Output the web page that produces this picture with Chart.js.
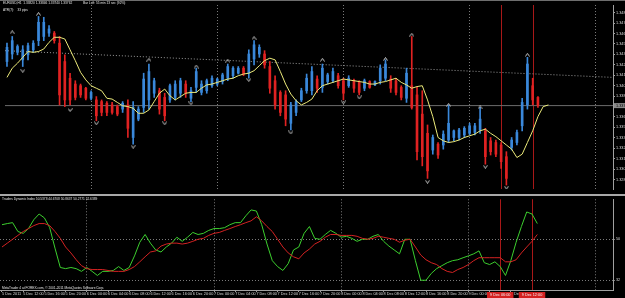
<!DOCTYPE html>
<html>
<head>
<meta charset="utf-8">
<script src="https://cdn.jsdelivr.net/npm/chart.js@4.4.0/dist/chart.umd.min.js"></script>
<style>
  body { margin: 0; background: #000; }
  #wrap { position: relative; width: 625px; height: 298px; overflow: hidden; background: #000; }
  canvas { position: absolute; left: 0; }
  #priceChart { top: 0; }
  #tdiChart { top: 196px; }
  .sep { position: absolute; left: 0; top: 194px; width: 625px; height: 2px; background: #a8a8a8; }
  .topline { position: absolute; left: 0; top: 0; width: 625px; height: 1px; background: #6e6e6e; }
  .txt { position: absolute; color: #e4e4e4; font: 8px "Liberation Sans", Arial, sans-serif; white-space: nowrap; transform: scale(0.4); transform-origin: 0 0; }
</style>
</head>
<body>
<div id="wrap">
  <canvas id="priceChart" width="625" height="194"></canvas>
  <div class="topline"></div>
  <div class="sep"></div>
  <canvas id="tdiChart" width="625" height="102"></canvas>
  <div class="txt" style="left:3px;top:1px">EURUSD,H1&nbsp; 1.33820 1.33846 1.33740 1.33762</div>
  <div class="txt" style="left:83px;top:1px">Bar Left: 55 min 13 sec (92%)</div>
  <div class="txt" style="left:3px;top:8px">ATR(7):&nbsp;&nbsp;&nbsp; 33 pips</div>
  <div class="txt" style="left:2px;top:197px">Traders Dynamic Index 50.5378 44.6708 50.8637 50.2771 52.6389</div>
  <div class="txt" style="left:2px;top:286px">MetaTrader 4 at FOREX.com, © 2001-2011 MetaQuotes Software Corp.</div>
</div>
<script>
// ==========================
// DATA (EURUSD H1, bar 0 = 5 Dec 2011 08:00)
// ==========================
const barOpen = [
  1.3429, 1.3438, 1.3440, 1.3431, 1.3437, 1.3443, 1.3454, 1.3459, 1.3463, 1.3463,
  1.3451, 1.3429, 1.3409, 1.3402, 1.3400, 1.3397, 1.3385, 1.3383, 1.3381, 1.3379,
  1.3377, 1.3375, 1.3372, 1.3377, 1.3338, 1.3360, 1.3374, 1.3383, 1.3391, 1.3394,
  1.3386, 1.3383, 1.3386, 1.3391, 1.3402, 1.3385, 1.3398, 1.3392, 1.3394, 1.3400,
  1.3402, 1.3405, 1.3409, 1.3412, 1.3415, 1.3421, 1.3415, 1.3432, 1.3438, 1.3438,
  1.3423, 1.3406, 1.3392, 1.3389, 1.3355, 1.3368, 1.3383, 1.3394, 1.3394, 1.3408,
  1.3398, 1.3405, 1.3406, 1.3412, 1.3406, 1.3400, 1.3406, 1.3404, 1.3397, 1.3405,
  1.3401, 1.3406, 1.3409, 1.3408, 1.3406, 1.3398, 1.3385, 1.3400, 1.3389, 1.3366,
  1.3343, 1.3323, 1.3330, 1.3329, 1.3335, 1.3338, 1.3338, 1.3341, 1.3343, 1.3344,
  1.3347, 1.3346, 1.3334, 1.3332, 1.3329, 1.3315, 1.3326, 1.3332, 1.3352, 1.3377,
  1.3400, 1.3386
];
const barHigh = [
  1.3451, 1.3459, 1.3449, 1.3448, 1.3451, 1.3454, 1.3483, 1.3482, 1.3472, 1.3465,
  1.3459, 1.3437, 1.3415, 1.3406, 1.3402, 1.3398, 1.3394, 1.3387, 1.3383, 1.3381,
  1.3380, 1.3377, 1.3381, 1.3383, 1.3381, 1.3375, 1.3415, 1.3426, 1.3409, 1.3397,
  1.3391, 1.3402, 1.3406, 1.3409, 1.3406, 1.3398, 1.3421, 1.3406, 1.3408, 1.3412,
  1.3409, 1.3415, 1.3426, 1.3423, 1.3423, 1.3423, 1.3443, 1.3454, 1.3449, 1.3442,
  1.3429, 1.3412, 1.3394, 1.3394, 1.3380, 1.3383, 1.3397, 1.3414, 1.3423, 1.3412,
  1.3426, 1.3415, 1.3421, 1.3415, 1.3409, 1.3412, 1.3408, 1.3406, 1.3408, 1.3406,
  1.3406, 1.3425, 1.3431, 1.3412, 1.3409, 1.3400, 1.3421, 1.3459, 1.3398, 1.3394,
  1.3353, 1.3341, 1.3332, 1.3346, 1.3377, 1.3347, 1.3349, 1.3351, 1.3355, 1.3355,
  1.3374, 1.3349, 1.3338, 1.3335, 1.3332, 1.3321, 1.3338, 1.3347, 1.3385, 1.3434,
  1.3409, 1.3387
];
const barLow = [
  1.3423, 1.3432, 1.3437, 1.3423, 1.3431, 1.3440, 1.3448, 1.3454, 1.3459, 1.3451,
  1.3377, 1.3375, 1.3377, 1.3383, 1.3386, 1.3383, 1.3383, 1.3358, 1.3364, 1.3364,
  1.3366, 1.3364, 1.3368, 1.3338, 1.3330, 1.3358, 1.3368, 1.3372, 1.3386, 1.3366,
  1.3358, 1.3380, 1.3383, 1.3386, 1.3386, 1.3381, 1.3392, 1.3389, 1.3391, 1.3398,
  1.3400, 1.3402, 1.3406, 1.3409, 1.3414, 1.3412, 1.3409, 1.3425, 1.3434, 1.3421,
  1.3391, 1.3372, 1.3364, 1.3352, 1.3347, 1.3364, 1.3381, 1.3391, 1.3389, 1.3392,
  1.3392, 1.3402, 1.3404, 1.3397, 1.3383, 1.3398, 1.3392, 1.3389, 1.3394, 1.3397,
  1.3400, 1.3402, 1.3406, 1.3392, 1.3389, 1.3383, 1.3380, 1.3372, 1.3311, 1.3304,
  1.3289, 1.3318, 1.3313, 1.3324, 1.3332, 1.3334, 1.3335, 1.3338, 1.3341, 1.3341,
  1.3343, 1.3306, 1.3317, 1.3315, 1.3301, 1.3281, 1.3323, 1.3329, 1.3346, 1.3372,
  1.3377, 1.3374
];
const barClose = [
  1.3446, 1.3454, 1.3447, 1.3443, 1.3448, 1.3451, 1.3476, 1.3476, 1.3468, 1.3454,
  1.3389, 1.3383, 1.3383, 1.3386, 1.3389, 1.3385, 1.3392, 1.3364, 1.3368, 1.3368,
  1.3368, 1.3366, 1.3379, 1.3349, 1.3374, 1.3372, 1.3408, 1.3417, 1.3406, 1.3372,
  1.3364, 1.3400, 1.3402, 1.3406, 1.3391, 1.3394, 1.3417, 1.3402, 1.3406, 1.3409,
  1.3408, 1.3413, 1.3423, 1.3421, 1.3421, 1.3414, 1.3438, 1.3449, 1.3446, 1.3425,
  1.3397, 1.3377, 1.3368, 1.3360, 1.3377, 1.3381, 1.3394, 1.3409, 1.3417, 1.3397,
  1.3421, 1.3413, 1.3417, 1.3400, 1.3391, 1.3409, 1.3397, 1.3392, 1.3406, 1.3398,
  1.3405, 1.3421, 1.3426, 1.3397, 1.3392, 1.3386, 1.3415, 1.3374, 1.3321, 1.3315,
  1.3298, 1.3338, 1.3317, 1.3342, 1.3355, 1.3346, 1.3347, 1.3349, 1.3352, 1.3352,
  1.3360, 1.3315, 1.3321, 1.3318, 1.3309, 1.3289, 1.3335, 1.3344, 1.3380, 1.3426,
  1.3383, 1.3376
];
// yellow moving average (runs two bars past the last candle)
const maLine = [
  1.3410, 1.3421, 1.3427, 1.3434, 1.3441, 1.3440, 1.3441, 1.3444, 1.3452, 1.3458,
  1.3458, 1.3456, 1.3443, 1.3430, 1.3416, 1.3407, 1.3400, 1.3397, 1.3394, 1.3385,
  1.3384, 1.3380, 1.3376, 1.3375, 1.3373, 1.3367, 1.3367, 1.3371, 1.3381, 1.3391,
  1.3396, 1.3388, 1.3383, 1.3387, 1.3391, 1.3392, 1.3392, 1.3397, 1.3401, 1.3402,
  1.3404, 1.3406, 1.3408, 1.3409, 1.3412, 1.3414, 1.3415, 1.3418, 1.3424, 1.3430,
  1.3433, 1.3431, 1.3417, 1.3402, 1.3390, 1.3382, 1.3377, 1.3380, 1.3384, 1.3394,
  1.3400, 1.3402, 1.3404, 1.3406, 1.3408, 1.3407, 1.3406, 1.3405, 1.3404, 1.3402,
  1.3402, 1.3404, 1.3405, 1.3407, 1.3409, 1.3404, 1.3401, 1.3397, 1.3399, 1.3400,
  1.3383, 1.3363, 1.3338, 1.3334, 1.3332, 1.3333, 1.3335, 1.3338, 1.3340, 1.3342,
  1.3346, 1.3348, 1.3343, 1.3339, 1.3334, 1.3329, 1.3324, 1.3314, 1.3318, 1.3332,
  1.3346, 1.3363, 1.3375, 1.3377
];
// fractals
const upFractalBars = [1, 6, 27, 36, 42, 47, 60, 72, 77, 84, 90, 99];
const upFractalPrice = [1.3464, 1.3486, 1.3431, 1.3423, 1.3430, 1.3457, 1.3431, 1.3432, 1.3461, 1.3377, 1.3374, 1.3437];
const downFractalBars = [3, 12, 17, 24, 30, 35, 46, 54, 64, 67, 80, 91, 95];
const downFractalPrice = [1.3418, 1.3371, 1.3355, 1.3327, 1.3355, 1.3379, 1.3407, 1.3344, 1.3380, 1.3386, 1.3285, 1.3303, 1.3278];
// trend line (bar, price) and bid line
const trendBars = [-0.38, 115.28];
const trendPrice = [1.3442, 1.3410];
const bidPrice = 1.33762;

// Traders Dynamic Index
const tdiGreen = [
  56.4, 56.9, 57.3, 53.4, 52.6, 54.7, 58.6, 61.1, 59.4, 55.1,
  46.1, 37.6, 37.1, 37.6, 37.1, 35.9, 37.6, 35.9, 34.1, 35.9,
  35.9, 36.3, 38.0, 36.3, 37.6, 42.7, 48.7, 52.1, 48.3, 45.3,
  44.4, 46.6, 48.3, 50.9, 49.1, 50.9, 53.0, 52.1, 52.6, 53.9,
  54.7, 54.7, 55.1, 56.4, 57.3, 57.3, 60.3, 62.9, 62.4, 56.4,
  47.9, 40.6, 38.0, 36.3, 39.3, 45.3, 46.6, 52.6, 55.6, 50.4,
  50.0, 52.1, 53.9, 52.6, 50.9, 51.3, 50.4, 49.1, 50.0, 50.0,
  51.3, 52.1, 49.1, 47.0, 45.3, 43.6, 50.0, 50.0, 40.6, 32.0,
  32.0, 35.0, 37.1, 38.4, 39.7, 40.6, 41.0, 41.9, 42.7, 43.6,
  44.9, 39.7, 38.9, 40.1, 38.0, 34.1, 40.6, 48.7, 55.6, 62.0,
  61.1, 56.9
];
const tdiRed = [
  46.6, 48.3, 50.0, 51.7, 53.4, 54.7, 56.0, 56.9, 56.9, 56.0,
  53.4, 50.4, 46.6, 44.0, 41.0, 38.4, 37.1, 36.7, 36.7, 36.7,
  36.3, 35.9, 35.9, 35.9, 36.7, 38.0, 40.1, 42.3, 44.4, 44.9,
  47.0, 47.9, 48.3, 48.3, 47.9, 48.3, 49.1, 50.0, 50.4, 51.7,
  52.6, 53.0, 53.9, 54.7, 55.6, 56.4, 57.3, 58.1, 59.9, 58.1,
  55.6, 53.4, 50.0, 46.6, 44.0, 42.3, 41.4, 44.0, 45.7, 47.9,
  49.1, 50.9, 52.1, 52.1, 51.7, 51.7, 51.7, 51.3, 50.4, 50.0,
  50.4, 51.3, 50.9, 50.4, 50.0, 48.7, 49.6, 50.0, 46.6, 43.1,
  41.0, 39.7, 38.9, 37.1, 35.9, 35.4, 36.7, 37.6, 38.9, 40.6,
  41.9, 41.9, 41.9, 41.9, 41.9, 40.1, 40.1, 41.0, 44.0, 46.6,
  49.1, 52.1
];
const tdiLevels = [32, 50];

// axes
const priceTicks = [1.34876, 1.34751, 1.34626, 1.34501, 1.34376, 1.34251, 1.34126, 1.34001,
  1.33876, 1.33626, 1.33501, 1.33376, 1.33251, 1.33126, 1.33001, 1.32876];
const daySeparators = [16, 40, 64, 88, 112];
const timeTickBars = [0, 4, 8, 12, 16, 20, 24, 28, 32, 36, 40, 44, 48, 52, 56, 60, 64, 68, 72, 76, 80, 84, 88, 92, 96, 112];
const timeTickLabels = ['5 Dec 2011', '5 Dec 12:00', '5 Dec 16:00', '5 Dec 20:00', '6 Dec 00:00', '6 Dec 04:00',
  '6 Dec 08:00', '6 Dec 12:00', '6 Dec 16:00', '6 Dec 20:00', '7 Dec 00:00', '7 Dec 04:00', '7 Dec 08:00',
  '7 Dec 12:00', '7 Dec 16:00', '7 Dec 20:00', '8 Dec 00:00', '8 Dec 04:00', '8 Dec 08:00', '8 Dec 12:00',
  '8 Dec 16:00', '8 Dec 20:00', '9 Dec 00:00', '9 Dec 04:00', '9 Dec 08:00', ''];
const markerBars = [94, 100];
const markerLabels = ['9 Dec 06:00', '9 Dec 12:00'];

// ==========================
// STYLE
// ==========================
const X_MIN = -0.377, X_MAX = 115.28;
const upColor = '#3a88da', downColor = '#e02222';
const axisFont = { family: 'Liberation Sans', size: 3.8 };
const labelColor = '#d8d8d8';
const barColors = barOpen.map((o, i) => barClose[i] >= o ? upColor : downColor);

function chevron(up) {
  const c = document.createElement('canvas');
  c.width = 5; c.height = 4;
  const g = c.getContext('2d');
  g.strokeStyle = '#c4c4c4';
  g.lineWidth = 1;
  g.beginPath();
  if (up) { g.moveTo(0.5, 3.5); g.lineTo(2.5, 0.5); g.lineTo(4.5, 3.5); }
  else { g.moveTo(0.5, 0.5); g.lineTo(2.5, 3.5); g.lineTo(4.5, 0.5); }
  g.stroke();
  return c;
}

// red vertical lines (drawn behind the data)
const markerLines = {
  id: 'markerLines',
  beforeDatasetsDraw(chart) {
    const { ctx, chartArea, scales: { x } } = chart;
    ctx.save();
    ctx.strokeStyle = '#a81818';
    ctx.lineWidth = 1;
    markerBars.forEach(b => {
      const px = Math.round(x.getPixelForValue(b)) + 0.5;
      ctx.beginPath();
      ctx.moveTo(px, chartArea.top);
      ctx.lineTo(px, chartArea.bottom);
      ctx.stroke();
    });
    ctx.restore();
  }
};

// bid label on the price axis
const bidLabel = {
  id: 'bidLabel',
  afterDraw(chart) {
    const { ctx, chartArea, scales: { y } } = chart;
    const py = y.getPixelForValue(bidPrice);
    ctx.save();
    ctx.fillStyle = '#8a8a8a';
    ctx.fillRect(chartArea.right + 1, py - 2.5, 12, 5);
    ctx.fillStyle = '#000';
    ctx.font = '3.8px "Liberation Sans"';
    ctx.textBaseline = 'middle';
    ctx.fillText(bidPrice.toFixed(5), chartArea.right + 3, py);
    ctx.restore();
  }
};

// red time labels of the vertical lines
const markerTimeLabels = {
  id: 'markerTimeLabels',
  afterDraw(chart) {
    const { ctx, chartArea, scales: { x } } = chart;
    ctx.save();
    ctx.font = '3.8px "Liberation Sans"';
    ctx.textAlign = 'center';
    ctx.textBaseline = 'middle';
    markerBars.forEach((b, k) => {
      const px = x.getPixelForValue(b);
      const w = ctx.measureText(markerLabels[k]).width + 6;
      ctx.fillStyle = '#d42020';
      ctx.fillRect(px - w / 2, chartArea.bottom + 2, w, 6);
      ctx.fillStyle = '#f2f2f2';
      ctx.fillText(markerLabels[k], px, chartArea.bottom + 5);
    });
    ctx.restore();
  }
};

// ==========================
// PRICE CHART
// ==========================
new Chart(document.getElementById('priceChart'), {
  type: 'bar',
  data: {
    datasets: [
      {
        type: 'line',
        data: maLine.map((v, i) => ({ x: i, y: v })),
        borderColor: '#ecea7a',
        borderWidth: 1,
        pointRadius: 0,
        order: 0
      },
      {
        type: 'scatter',
        data: upFractalBars.map((b, k) => ({ x: b, y: upFractalPrice[k] })),
        pointStyle: chevron(true),
        order: 1
      },
      {
        type: 'scatter',
        data: downFractalBars.map((b, k) => ({ x: b, y: downFractalPrice[k] })),
        pointStyle: chevron(false),
        order: 1
      },
      {
        type: 'bar',
        data: barOpen.map((o, i) => ({ x: i, y: [o, barClose[i]] })),
        backgroundColor: barColors,
        barThickness: 2,
        grouped: false,
        order: 2
      },
      {
        type: 'bar',
        data: barLow.map((l, i) => ({ x: i, y: [l, barHigh[i]] })),
        backgroundColor: barColors,
        barThickness: 1,
        grouped: false,
        order: 3
      },
      {
        type: 'line',
        data: trendBars.map((b, k) => ({ x: b, y: trendPrice[k] })),
        borderColor: '#9a9a9a',
        borderWidth: 1,
        borderDash: [1, 2],
        pointRadius: 0,
        order: 4
      },
      {
        type: 'line',
        data: [{ x: X_MIN, y: bidPrice }, { x: X_MAX, y: bidPrice }],
        borderColor: '#6c6c6c',
        borderWidth: 1,
        pointRadius: 0,
        order: 4
      }
    ]
  },
  options: {
    responsive: false,
    animation: false,
    devicePixelRatio: 1,
    layout: { padding: 0 },
    plugins: { legend: { display: false }, tooltip: { enabled: false } },
    scales: {
      x: {
        type: 'linear',
        min: X_MIN,
        max: X_MAX,
        offset: false,
        afterBuildTicks: s => { s.ticks = daySeparators.map(v => ({ value: v })); },
        afterFit: s => { s.height = 0; },
        ticks: { display: false },
        grid: { color: '#7a7a7a', drawTicks: false, offset: false },
        border: { display: false, dash: [1, 2] }
      },
      y: {
        type: 'linear',
        position: 'right',
        min: 1.32763,
        max: 1.34967,
        afterBuildTicks: s => { s.ticks = priceTicks.map(v => ({ value: v })); },
        afterFit: s => { s.width = 12; },
        ticks: { color: labelColor, font: axisFont, padding: 1, callback: v => v.toFixed(5) },
        grid: { drawOnChartArea: false, tickLength: 2, color: '#a0a0a0' },
        border: { color: '#a0a0a0' }
      }
    }
  },
  plugins: [markerLines, bidLabel]
});

// ==========================
// TDI CHART
// ==========================
new Chart(document.getElementById('tdiChart'), {
  type: 'line',
  data: {
    datasets: [
      {
        data: tdiRed.map((v, i) => ({ x: i, y: v })),
        borderColor: '#d42222',
        borderWidth: 1,
        pointRadius: 0
      },
      {
        data: tdiGreen.map((v, i) => ({ x: i, y: v })),
        borderColor: '#3ccf2e',
        borderWidth: 1,
        pointRadius: 0
      }
    ]
  },
  options: {
    responsive: false,
    animation: false,
    devicePixelRatio: 1,
    layout: { padding: { top: 1 } },
    plugins: { legend: { display: false }, tooltip: { enabled: false } },
    scales: {
      x: {
        type: 'linear',
        min: X_MIN,
        max: X_MAX,
        offset: false,
        afterBuildTicks: s => { s.ticks = timeTickBars.map(v => ({ value: v })); },
        afterFit: s => { s.height = 8; },
        ticks: {
          color: labelColor,
          font: axisFont,
          padding: 0,
          align: 'start',
          autoSkip: false,
          maxRotation: 0,
          callback: (v, idx) => timeTickLabels[idx]
        },
        grid: {
          color: c => (c.tick && daySeparators.includes(c.tick.value)) ? '#7a7a7a' : 'rgba(0,0,0,0)',
          tickColor: c => (c.tick && c.tick.value <= 96) ? '#a0a0a0' : 'rgba(0,0,0,0)',
          tickLength: 2
        },
        border: { color: '#a0a0a0', dash: [1, 2] }
      },
      y: {
        type: 'linear',
        position: 'right',
        min: 27.71,
        max: 67.57,
        afterBuildTicks: s => { s.ticks = tdiLevels.map(v => ({ value: v })); },
        afterFit: s => { s.width = 12; },
        ticks: { color: labelColor, font: axisFont, padding: 1 },
        grid: { color: '#7a7a7a', tickLength: 2 },
        border: { color: '#a0a0a0', dash: [1, 2] }
      }
    }
  },
  plugins: [markerLines, markerTimeLabels]
});
</script>
</body>
</html>
